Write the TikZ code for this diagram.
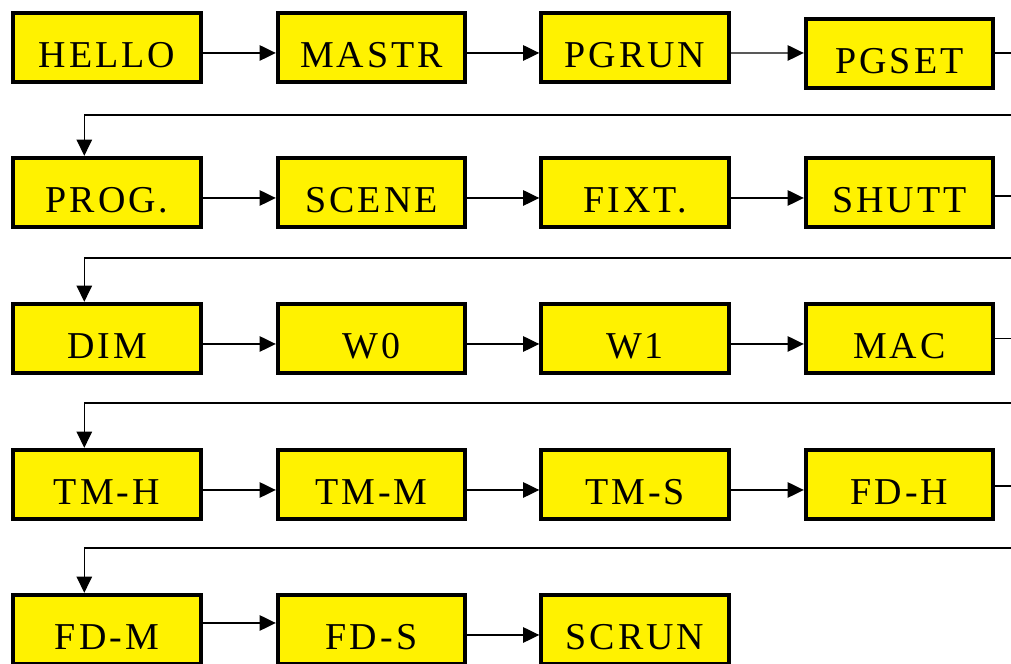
\documentclass[tikz,border=0pt]{standalone}
\usepackage{fontspec}
\setmainfont{Liberation Serif}
\newfontfamily\boxfont[LetterSpace=8]{Liberation Serif}
\usetikzlibrary{arrows.meta,calc}

\begin{document}
\begin{tikzpicture}[
  >={Triangle[length=11.5pt,width=11pt]},
  blk/.style={rectangle, draw=black, fill=yellow, line width=2.7pt, minimum width=4.69cm, minimum height=1.74cm, inner sep=0pt, text height=1.025cm, text depth=0pt, font=\boxfont\fontsize{27}{30}\selectfont},
  flw/.style={->, line width=0.9pt},
  ret/.style={->, line width=0.9pt},
]
\useasboundingbox (0,0) rectangle (25.275,16.6);
\clip (0,0) rectangle (25.275,16.6);
% row 1
\node[blk] (hello) at (2.675,15.4125) {HELLO};
\node[blk] (mastr) at (9.2875,15.4125) {MASTR};
\node[blk] (pgrun) at (15.875,15.4125) {PGRUN};
\node[blk] (pgset) at (22.4875,15.2625) {PGSET};
% row 2
\node[blk] (prog) at (2.675,11.7875) {PROG.};
\node[blk] (scene) at (9.2875,11.7875) {SCENE};
\node[blk] (fixt) at (15.875,11.7875) {FIXT.};
\node[blk] (shutt) at (22.4875,11.7875) {SHUTT};
% row 3
\node[blk] (dim) at (2.675,8.1375) {DIM};
\node[blk] (wzero) at (9.2875,8.1375) {W0};
\node[blk] (wone) at (15.875,8.1375) {W1};
\node[blk] (mac) at (22.4875,8.1375) {MAC};
% row 4
\node[blk] (tmh) at (2.675,4.4875) {TM-H};
\node[blk] (tmm) at (9.2875,4.4875) {TM-M};
\node[blk] (tms) at (15.875,4.4875) {TM-S};
\node[blk] (fdh) at (22.4875,4.4875) {FD-H};
% row 5
\node[blk] (fdm) at (2.675,0.8625) {FD-M};
\node[blk] (fds) at (9.2875,0.8625) {FD-S};
\node[blk] (scrun) at (15.875,0.8625) {SCRUN};
% arrows along the rows
\foreach \a/\b in {hello/mastr,mastr/pgrun,prog/scene,scene/fixt,fixt/shutt,dim/wzero,wzero/wone,wone/mac,tmh/tmm,tmm/tms,tms/fdh,fds/scrun}
  \draw[flw] ([yshift=-0.1375cm]\a.east) -- ([yshift=-0.1375cm]\b.west);
\draw[flw] ([yshift=-0.1375cm]pgrun.east) -- ([yshift=0.0125cm]pgset.west);
\draw[flw] ([yshift=0.1625cm]fdm.east) -- ([yshift=0.1625cm]fds.west);
% returns to the next row
\coordinate (r1) at (26,13.725);
\coordinate (r2) at (26,10.15);
\coordinate (r3) at (26,6.525);
\coordinate (r4) at (26,2.9);
\coordinate (d1) at ([xshift=1.825cm]prog.north west);
\coordinate (d2) at ([xshift=1.825cm]dim.north west);
\coordinate (d3) at ([xshift=1.825cm]tmh.north west);
\coordinate (d4) at ([xshift=1.825cm]fdm.north west);
\draw[ret] ([yshift=0.0125cm]pgset.east) -- ([yshift=0.0125cm]pgset.east -| r1) -- (r1) -- (d1 |- r1) -- (d1);
\draw[ret] ([yshift=-0.0875cm]shutt.east) -- ([yshift=-0.0875cm]shutt.east -| r2) -- (r2) -- (d2 |- r2) -- (d2);
\draw[ret] (mac.east) -- (mac.east -| r3) -- (r3) -- (d3 |- r3) -- (d3);
\draw[ret] ([yshift=-0.0375cm]fdh.east) -- ([yshift=-0.0375cm]fdh.east -| r4) -- (r4) -- (d4 |- r4) -- (d4);
\end{tikzpicture}
\end{document}
